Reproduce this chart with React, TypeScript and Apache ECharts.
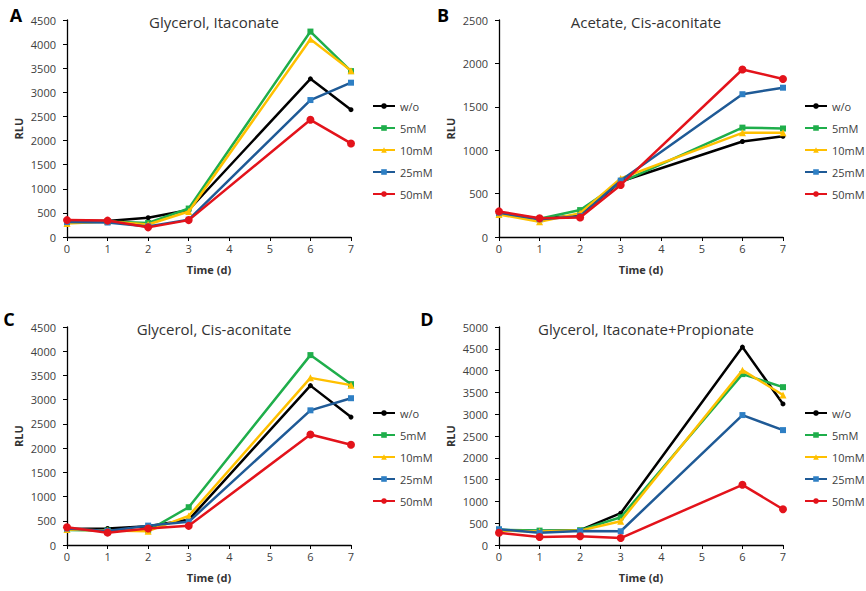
import React, { useEffect, useRef } from "react";
import * as echarts from "echarts";

const days = [0, 1, 2, 3, 6, 7];
const seriesNames = ["w/o", "5mM", "10mM", "25mM", "50mM"];

const titles = ["Glycerol, Itaconate", "Acetate, Cis-aconitate", "Glycerol, Cis-aconitate", "Glycerol, Itaconate+Propionate"];
const panelLetters = ["A", "B", "C", "D"];
const yMax = [4500, 2500, 4500, 5000];

// Panel A: Glycerol, Itaconate
const aWo = [330, 330, 400, 560, 3280, 2640];
const a5 = [300, 320, 290, 590, 4260, 3440];
const a10 = [280, 320, 260, 530, 4100, 3450];
const a25 = [310, 300, 220, 360, 2840, 3200];
const a50 = [350, 340, 200, 350, 2430, 1940];

// Panel B: Acetate, Cis-aconitate
const bWo = [280, 210, 250, 640, 1100, 1160];
const b5 = [270, 210, 310, 630, 1260, 1250];
const b10 = [260, 175, 275, 675, 1200, 1200];
const b25 = [280, 205, 240, 650, 1645, 1720];
const b50 = [295, 215, 225, 600, 1930, 1820];

// Panel C: Glycerol, Cis-aconitate
const cWo = [330, 340, 385, 520, 3290, 2640];
const c5 = [310, 300, 300, 780, 3920, 3320];
const c10 = [320, 300, 285, 600, 3450, 3300];
const c25 = [340, 290, 400, 480, 2780, 3030];
const c50 = [365, 255, 340, 395, 2280, 2070];

// Panel D: Glycerol, Itaconate+Propionate
const dWo = [340, 320, 340, 730, 4540, 3235];
const d5 = [350, 330, 340, 635, 3920, 3620];
const d10 = [330, 310, 330, 545, 4010, 3440];
const d25 = [360, 280, 320, 315, 2980, 2635];
const d50 = [280, 185, 200, 160, 1380, 820];

const panels = [
  [aWo, a5, a10, a25, a50],
  [bWo, b5, b10, b25, b50],
  [cWo, c5, c10, c25, c50],
  [dWo, d5, d10, d25, d50],
];

const FONT = "Open Sans";

const styles = [
  { line: "#000000", marker: "#000000", symbol: "circle", size: 5 },
  { line: "#1fae4b", marker: "#1fae4b", symbol: "rect", size: 6 },
  { line: "#ffc000", marker: "#ffc000", symbol: "triangle", size: 7 },
  { line: "#1f5a96", marker: "#2e7fc4", symbol: "rect", size: 6 },
  { line: "#e3131b", marker: "#e3131b", symbol: "circle", size: 8 },
];

const grids = [
  { left: 67, top: 20, width: 284, height: 217 },
  { left: 499, top: 20, width: 284, height: 217 },
  { left: 67, top: 327, width: 284, height: 218 },
  { left: 499, top: 327, width: 284, height: 218 },
];

const legendPos = [
  { left: 372, top: 100 },
  { left: 804, top: 100 },
  { left: 372, top: 407 },
  { left: 804, top: 407 },
];

const letterPos = [
  { x: 16, y: 15 },
  { x: 443, y: 15 },
  { x: 9, y: 319 },
  { x: 427, y: 319 },
];

export default function App() {
  const ref = useRef<HTMLDivElement>(null);
  useEffect(() => {
    if (!ref.current) return;
    const chart = echarts.init(ref.current, null, { renderer: "svg" });

    const series: any[] = [];
    panels.forEach((vals, p) => {
      vals.forEach((v, s) => {
        const st = styles[s];
        series.push({
          type: "line",
          name: seriesNames[s],
          xAxisIndex: p,
          yAxisIndex: p,
          data: days.map((d, i) => [d, v[i]]),
          symbol: st.symbol,
          symbolSize: st.size,
          showSymbol: true,
          lineStyle: { color: st.line, width: 2.5 },
          itemStyle: { color: st.marker },
          z: 2 + s,
        });
      });
    });

    const option: any = {
      animation: false,
      backgroundColor: "#ffffff",
      textStyle: { fontFamily: FONT },
      title: grids.map((g, i) => ({
        text: titles[i],
        left: g.left + g.width / 2,
        top: g.top - 11,
        textAlign: "center",
        textStyle: { fontFamily: FONT, fontSize: 15, fontWeight: "normal", color: "#333333" },
      })),
      grid: grids.map((g) => ({ ...g, containLabel: false })),
      xAxis: grids.map((g, i) => ({
        type: "value",
        gridIndex: i,
        min: 0,
        max: 7,
        interval: 1,
        name: "Time (d)",
        nameLocation: "middle",
        nameGap: 27,
        nameTextStyle: { fontFamily: FONT, fontSize: 11, fontWeight: "bold", color: "#333333" },
        axisLine: { show: true, lineStyle: { color: "#000000", width: 1.3 } },
        axisTick: { show: true, inside: false, length: 4, lineStyle: { color: "#000000" } },
        axisLabel: { fontFamily: FONT, fontSize: 11, color: "#404040", margin: 6 },
        splitLine: { show: false },
      })),
      yAxis: grids.map((g, i) => ({
        type: "value",
        gridIndex: i,
        min: 0,
        max: yMax[i],
        interval: 500,
        name: "RLU",
        nameLocation: "middle",
        nameGap: 43,
        nameTextStyle: { fontFamily: FONT, fontSize: 11, fontWeight: "bold", color: "#333333" },
        axisLine: { show: true, lineStyle: { color: "#000000", width: 1.3 } },
        axisTick: { show: true, inside: false, length: 4, lineStyle: { color: "#000000" } },
        axisLabel: {
          fontFamily: FONT,
          fontSize: 11,
          color: "#404040",
          margin: 11,
          formatter: (v: number) => String(v),
        },
        splitLine: { show: false },
      })),
      legend: legendPos.map((lp) => ({
        orient: "vertical",
        left: lp.left,
        top: lp.top,
        data: seriesNames,
        itemWidth: 22,
        itemHeight: 7,
        itemGap: 10,
        padding: 0,
        selectedMode: false,
        textStyle: { fontFamily: FONT, fontSize: 11, color: "#404040", lineHeight: 12 },
      })),
      graphic: letterPos.map((lp, i) => ({
        type: "text",
        x: lp.x,
        y: lp.y,
        style: {
          text: panelLetters[i],
          fontFamily: FONT,
          fontSize: 18,
          fontWeight: "bold",
          fill: "#000000",
          align: "center",
          verticalAlign: "middle",
        },
      })),
      series,
    };

    chart.setOption(option);
    return () => chart.dispose();
  }, []);

  return (
    <div
      ref={ref}
      style={{ position: "fixed", left: 0, top: 0, width: 866, height: 591, background: "#fff" }}
    />
  );
}
